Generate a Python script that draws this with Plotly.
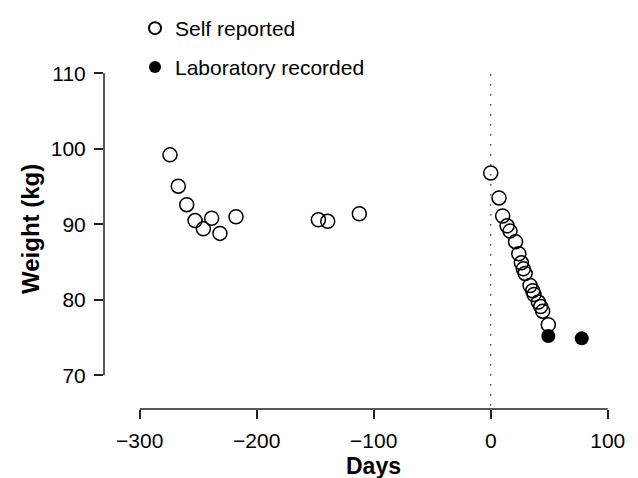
import plotly.graph_objects as go

# Self reported weights
self_days = [-274.1, -267.0, -259.8, -252.7, -245.6, -238.5, -231.4, -217.7,
             -147.3, -139.3, -112.3,
             0.0, 7.1, 10.2, 14.0, 16.5, 21.2, 24.0, 26.2, 27.9, 29.4,
             33.6, 35.9, 37.0, 40.7, 42.7, 44.4, 49.2]
self_weight = [99.2, 95.05, 92.6, 90.5, 89.4, 90.8, 88.8, 91.0,
               90.6, 90.4, 91.4,
               96.8, 93.5, 91.1, 89.8, 89.1, 87.7, 86.1, 84.9, 84.1, 83.5,
               81.9, 81.2, 80.7, 79.7, 79.1, 78.5, 76.7]

# Laboratory recorded weights
lab_days = [49.2, 77.8]
lab_weight = [75.2, 74.9]

x_ticks = [-300, -200, -100, 0, 100]
y_ticks = [70, 80, 90, 100, 110]

FONT = "Arial, Liberation Sans, sans-serif"

# page has an 8px body margin; figure sized to fit the window
FW, FH = 630, 470
ML, MR, MT, MB = 96, 14, 42, 69
W, H = FW - ML - MR, FH - MT - MB

fig = go.Figure()
fig.add_trace(go.Scatter(
    x=self_days, y=self_weight, mode="markers", name="Self reported",
    legendgroup="a",
    marker=dict(symbol="circle-open", size=14, color="black",
                line=dict(width=1.5, color="black")),
))
fig.add_trace(go.Scatter(
    x=lab_days, y=lab_weight, mode="markers", name="Laboratory recorded",
    legendgroup="b",
    marker=dict(symbol="circle", size=14, color="black",
                line=dict(width=0, color="black")),
))

# dotted reference line at day 0
fig.add_shape(type="line", x0=0, x1=0, y0=66, y1=110, xref="x", yref="y",
              line=dict(color="#333333", width=1.5, dash="1.3px,8.7px"), layer="below")
# detached R-style axis lines
fig.add_shape(type="line", x0=x_ticks[0], x1=x_ticks[-1], y0=0, y1=0,
              xref="x", yref="paper", line=dict(color="#222222", width=1.5))
fig.add_shape(type="line", x0=0, x1=0, y0=y_ticks[0], y1=y_ticks[-1],
              xref="paper", yref="y", line=dict(color="#222222", width=1.5))

fig.add_annotation(text="<b>Days</b>", x=(x_ticks[0] + x_ticks[-1]) / 2,
                   y=-57 / H, xanchor="center", yanchor="middle",
                   xref="x", yref="paper", showarrow=False,
                   font=dict(family=FONT, size=23, color="black"))
fig.add_annotation(text="<b>Weight (kg)</b>", x=(30 - 104) / W,
                   y=(409 - 229) / H, textangle=-90,
                   xanchor="center", yanchor="middle",
                   xref="paper", yref="paper", showarrow=False,
                   font=dict(family=FONT, size=24, color="black"))

fig.update_layout(
    width=FW, height=FH,
    margin=dict(l=ML, r=MR, t=MT, b=MB, autoexpand=False),
    plot_bgcolor="white", paper_bgcolor="white",
    font=dict(family=FONT, size=21, color="black"),
    showlegend=True,
    legend=dict(x=(135 - 8) / FW, y=1 - (3 - 8) / FH, xref="container", yref="container",
                xanchor="left", yanchor="top",
                bgcolor="rgba(0,0,0,0)", font=dict(size=21),
                tracegroupgap=8.5, itemsizing="constant"),
    xaxis=dict(range=[-330.5, 113.9], tickvals=x_ticks, showgrid=False,
               zeroline=False, showline=False, ticks="outside", ticklen=9,
               tickwidth=1.5, tickcolor="#222222", ticklabelstandoff=4,
               automargin=False),
    yaxis=dict(range=[65.54, 113.09], tickvals=y_ticks, showgrid=False,
               zeroline=False, showline=False, ticks="outside", ticklen=9,
               tickwidth=1.5, tickcolor="#222222", ticklabelstandoff=4,
               automargin=False),
)

fig.write_html("out.html")
